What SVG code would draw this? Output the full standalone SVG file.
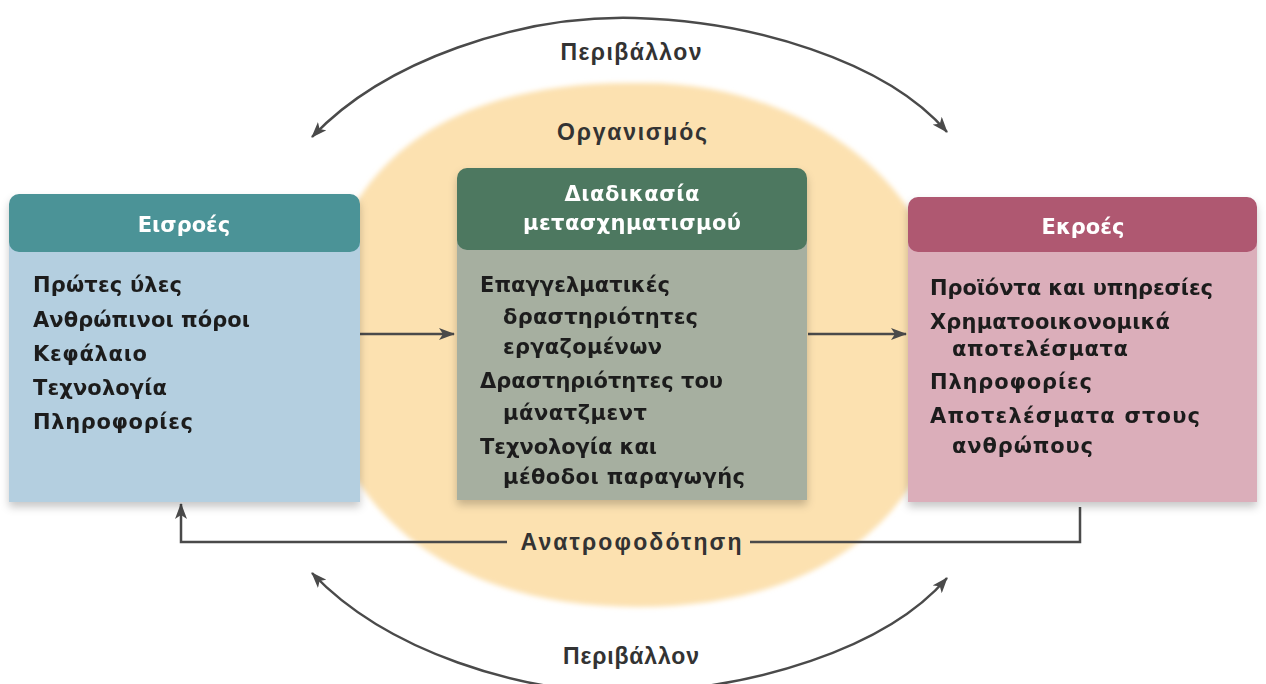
<svg xmlns="http://www.w3.org/2000/svg" width="1266" height="684" viewBox="0 0 1266 684">
  <defs>
    <filter id="soft" x="-10%" y="-10%" width="120%" height="120%">
      <feGaussianBlur stdDeviation="2.5"/>
    </filter>
    <filter id="shadow" x="-10%" y="-10%" width="120%" height="130%">
      <feDropShadow dx="0" dy="5" stdDeviation="4" flood-color="#000" flood-opacity="0.22"/>
    </filter>
    <marker id="arrow" markerUnits="userSpaceOnUse" markerWidth="16" markerHeight="12" viewBox="0 0 16 12" refX="15" refY="6" orient="auto-start-reverse">
      <path d="M0,0 L16,6 L0,12 L4,6 Z" fill="#4a4a4a"/>
    </marker>
    <style>
      .line { fill: none; stroke: #4a4a4a; stroke-width: 2.5; }
      .hdr { font-family: "DejaVu Sans", "Noto Sans", sans-serif; font-weight: bold; font-size: 21px; fill: #ffffff; text-anchor: middle; }
      .body { font-family: "DejaVu Sans", "Noto Sans", sans-serif; font-weight: bold; font-size: 21px; fill: #1f1f1f; }
      .lbl { font-family: "Liberation Sans", Arial, sans-serif; font-weight: bold; font-size: 23px; fill: #333333; text-anchor: middle; }
    </style>
  </defs>

  <rect x="0" y="0" width="1266" height="684" fill="#ffffff"/>

  <g id="organism">
    <path d="M638,83 C790,80 950,175 950,345 C950,500 836,607 638,607 C440,607 320,500 320,345 C320,160 455,80 638,83 Z" fill="#fce1b0" filter="url(#soft)"/>
    <text class="lbl" x="632" y="140" textLength="150" lengthAdjust="spacing">Οργανισμός</text>
  </g>

  <g id="connectors">
    <path class="line" d="M312,137 C385,60 520,15 635,18 C750,21 885,60 947,132" marker-start="url(#arrow)" marker-end="url(#arrow)"/>
    <path class="line" d="M312,573 C385,650 520,695 635,692 C750,689 885,650 947,578" marker-start="url(#arrow)" marker-end="url(#arrow)"/>
    <line class="line" x1="360" y1="334" x2="454" y2="334" marker-end="url(#arrow)"/>
    <line class="line" x1="808" y1="334" x2="906" y2="334" marker-end="url(#arrow)"/>
    <polyline class="line" points="1080,507 1080,542 750,542"/>
    <polyline class="line" points="507,542 181,542 181,504" marker-end="url(#arrow)"/>
    <text class="lbl" x="631" y="60" textLength="141" lengthAdjust="spacing">Περιβάλλον</text>
    <text class="lbl" x="631" y="550" textLength="221" lengthAdjust="spacing">Ανατροφοδότηση</text>
    <text class="lbl" x="631" y="664" textLength="136" lengthAdjust="spacing">Περιβάλλον</text>
  </g>

  <g id="inputs" filter="url(#shadow)">
    <rect x="9" y="204" width="351" height="298" fill="#b4cfe0"/>
    <rect x="9" y="194" width="351" height="58" rx="10" fill="#4b9397"/>
    <text class="hdr" x="184" y="232">Εισροές</text>
    <text class="body" x="33" y="292" textLength="149" lengthAdjust="spacing">Πρώτες ύλες</text>
    <text class="body" x="33" y="327" textLength="217" lengthAdjust="spacing">Ανθρώπινοι πόροι</text>
    <text class="body" x="33" y="361" textLength="114" lengthAdjust="spacing">Κεφάλαιο</text>
    <text class="body" x="33" y="395" textLength="134" lengthAdjust="spacing">Τεχνολογία</text>
    <text class="body" x="33" y="429" textLength="160" lengthAdjust="spacing">Πληροφορίες</text>
  </g>

  <g id="process" filter="url(#shadow)">
    <rect x="457" y="178" width="350" height="322" fill="#a6afa0"/>
    <rect x="457" y="168" width="350" height="82" rx="10" fill="#4e7860"/>
    <text class="hdr" x="632" y="201" textLength="135" lengthAdjust="spacing">Διαδικασία</text>
    <text class="hdr" x="632" y="230" textLength="218" lengthAdjust="spacing">μετασχηματισμού</text>
    <text class="body" x="480" y="292" textLength="190" lengthAdjust="spacing">Επαγγελματικές</text>
    <text class="body" x="503" y="324" textLength="195" lengthAdjust="spacing">δραστηριότητες</text>
    <text class="body" x="503" y="354" textLength="159" lengthAdjust="spacing">εργαζομένων</text>
    <text class="body" x="480" y="388" textLength="243" lengthAdjust="spacing">Δραστηριότητες του</text>
    <text class="body" x="503" y="420" textLength="144" lengthAdjust="spacing">μάνατζμεντ</text>
    <text class="body" x="480" y="454" textLength="177" lengthAdjust="spacing">Τεχνολογία και</text>
    <text class="body" x="503" y="484" textLength="242" lengthAdjust="spacing">μέθοδοι παραγωγής</text>
  </g>

  <g id="outputs" filter="url(#shadow)">
    <rect x="908" y="207" width="349" height="295" fill="#dbaeba"/>
    <rect x="908" y="197" width="349" height="55" rx="10" fill="#af5871"/>
    <text class="hdr" x="1083" y="234">Εκροές</text>
    <text class="body" x="930" y="295" textLength="283" lengthAdjust="spacing">Προϊόντα και υπηρεσίες</text>
    <text class="body" x="930" y="329" textLength="240" lengthAdjust="spacing">Χρηματοοικονομικά</text>
    <text class="body" x="952" y="356" textLength="176" lengthAdjust="spacing">αποτελέσματα</text>
    <text class="body" x="930" y="389" textLength="162" lengthAdjust="spacing">Πληροφορίες</text>
    <text class="body" x="930" y="423" textLength="270" lengthAdjust="spacing">Αποτελέσματα στους</text>
    <text class="body" x="952" y="453" textLength="141" lengthAdjust="spacing">ανθρώπους</text>
  </g>
</svg>
